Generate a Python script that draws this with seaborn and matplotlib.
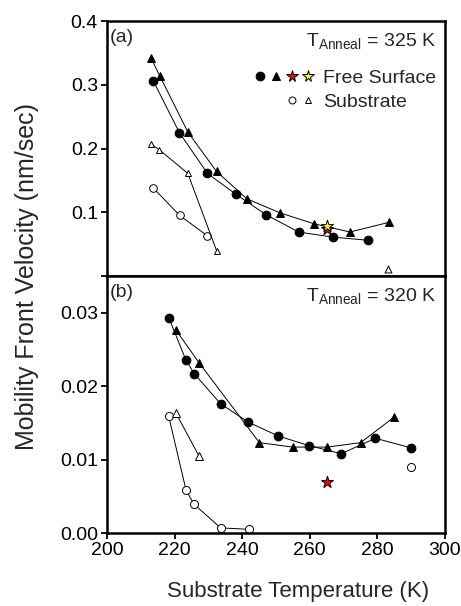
import numpy as np
import pandas as pd
import matplotlib
matplotlib.use("Agg")
import matplotlib.pyplot as plt
import seaborn as sns
from matplotlib.lines import Line2D
from matplotlib.legend_handler import HandlerTuple

# ---------------- data : panel (a), T_anneal = 325 K ----------------
a_fs_circ_T = [213.7, 221.4, 229.7, 238.2, 247.1, 256.7, 266.8, 277.3]
a_fs_circ_v = [0.306, 0.225, 0.161, 0.128, 0.096, 0.069, 0.061, 0.056]
a_fs_tri_T = [213.0, 215.7, 223.9, 232.4, 241.4, 251.2, 261.2, 271.9, 283.3]
a_fs_tri_v = [0.342, 0.313, 0.226, 0.164, 0.121, 0.099, 0.082, 0.069, 0.084]
a_sub_circ_T = [213.7, 221.5, 229.7]
a_sub_circ_v = [0.138, 0.095, 0.063]
a_sub_tri_T = [213.0, 215.5, 223.9, 232.4]
a_sub_tri_v = [0.207, 0.198, 0.161, 0.040]
a_sub_tri_iso_T = [283.2]
a_sub_tri_iso_v = [0.011]
a_star_red_T = [265.0]
a_star_red_v = [0.073]
a_star_yel_T = [265.0]
a_star_yel_v = [0.078]

# ---------------- data : panel (b), T_anneal = 320 K ----------------
b_fs_circ_T = [218.3, 223.3, 225.8, 233.6, 241.8, 250.7, 259.8, 269.3, 279.4, 289.9]
b_fs_circ_v = [0.0293, 0.0236, 0.0217, 0.0176, 0.0151, 0.0132, 0.0119, 0.0108, 0.0129, 0.0116]
b_fs_tri_T = [220.3, 227.2, 245.1, 254.9, 265.1, 275.0, 285.0]
b_fs_tri_v = [0.0277, 0.0232, 0.0123, 0.0117, 0.0117, 0.0123, 0.0158]
b_sub_circ_T = [218.2, 223.4, 225.8, 233.6, 241.9]
b_sub_circ_v = [0.0160, 0.0058, 0.0039, 0.0007, 0.0005]
b_sub_circ_iso_T = [289.9]
b_sub_circ_iso_v = [0.0090]
b_sub_tri_T = [220.3, 227.2]
b_sub_tri_v = [0.0164, 0.0105]
b_star_red_T = [265.1]
b_star_red_v = [0.0070]

x_ticks = [200, 220, 240, 260, 280, 300]
a_yticks = [0.0, 0.1, 0.2, 0.3, 0.4]
a_yticklabels = ["", "0.1", "0.2", "0.3", "0.4"]
b_yticks = [0.00, 0.01, 0.02, 0.03]
b_yticklabels = ["0.00", "0.01", "0.02", "0.03"]

sns.set_style("ticks")
plt.rcParams["font.family"] = ["Liberation Sans", "DejaVu Sans"]
plt.rcParams["mathtext.fontset"] = "custom"
plt.rcParams["mathtext.rm"] = "Liberation Sans"
plt.rcParams["mathtext.it"] = "Liberation Sans:italic"

W, H = 461, 606
fig = plt.figure(figsize=(W / 100, H / 100), dpi=100)
L, R = 107 / W, 445 / W
ax_a = fig.add_axes([L, 1 - 276 / H, R - L, (276 - 21) / H])
ax_b = fig.add_axes([L, 1 - 533 / H, R - L, (533 - 276) / H])

LW = 0.7


def conn(ax, T, v, marker, filled, ms):
    df = pd.DataFrame({"T": T, "v": v})
    sns.lineplot(data=df, x="T", y="v", ax=ax, color="black", lw=LW,
                 marker=marker, markersize=ms, sort=False, estimator=None,
                 markerfacecolor="black" if filled else "white",
                 markeredgecolor="black", markeredgewidth=0.7)


def pts(ax, T, v, marker, face, ms, z=3):
    df = pd.DataFrame({"T": T, "v": v})
    sns.scatterplot(data=df, x="T", y="v", ax=ax, marker=marker, s=ms ** 2,
                    color=face, edgecolor="black", linewidth=0.7, zorder=z)


# panel a
conn(ax_a, a_sub_circ_T, a_sub_circ_v, "o", False, 5.5)
conn(ax_a, a_sub_tri_T, a_sub_tri_v, "^", False, 5)
conn(ax_a, a_fs_circ_T, a_fs_circ_v, "o", True, 6.3)
conn(ax_a, a_fs_tri_T, a_fs_tri_v, "^", True, 6.3)
pts(ax_a, a_sub_tri_iso_T, a_sub_tri_iso_v, "^", "white", 5)
pts(ax_a, a_star_red_T, a_star_red_v, "*", "red", 9, 4)
pts(ax_a, a_star_yel_T, a_star_yel_v, "*", "yellow", 9, 5)

# panel b
conn(ax_b, b_sub_circ_T, b_sub_circ_v, "o", False, 5.8)
conn(ax_b, b_sub_tri_T, b_sub_tri_v, "^", False, 6)
conn(ax_b, b_fs_circ_T, b_fs_circ_v, "o", True, 6.3)
conn(ax_b, b_fs_tri_T, b_fs_tri_v, "^", True, 6.3)
pts(ax_b, b_sub_circ_iso_T, b_sub_circ_iso_v, "o", "white", 5.8)
pts(ax_b, b_star_red_T, b_star_red_v, "*", "red", 9, 4)

TICK_FS = 14
XLABEL_FS = 16
YLABEL_FS = 18
for ax in (ax_a, ax_b):
    ax.set_xlim(200, 300)
    ax.set_xticks(x_ticks)
    for s in ax.spines.values():
        s.set_visible(True)
        s.set_linewidth(1.8)
        s.set_color("black")
    ax.tick_params(axis="both", direction="out", length=4, width=1.3,
                   labelsize=TICK_FS, colors="black", pad=2.5)
    ax.set_xlabel("")
    ax.set_ylabel("")

ax_a.set_ylim(0, 0.4)
ax_a.set_yticks(a_yticks)
ax_a.set_yticklabels(a_yticklabels)
ax_a.tick_params(axis="x", bottom=False, labelbottom=False)

ax_b.set_ylim(0, 0.035)
ax_b.set_yticks(b_yticks)
ax_b.set_yticklabels(b_yticklabels)
ax_b.set_xticklabels([str(t) for t in x_ticks])

ax_a.text(0.008, 0.968, "(a)", transform=ax_a.transAxes, ha="left", va="top",
          fontsize=14)
ax_b.text(0.008, 0.968, "(b)", transform=ax_b.transAxes, ha="left", va="top",
          fontsize=14)
ax_a.text(0.975, 0.962, r"T$_{\mathrm{Anneal}}$ = 325 K", transform=ax_a.transAxes,
          ha="right", va="top", fontsize=14)
ax_b.text(0.975, 0.962, r"T$_{\mathrm{Anneal}}$ = 320 K", transform=ax_b.transAxes,
          ha="right", va="top", fontsize=14)

# legend
mk = dict(linestyle="none", markeredgecolor="black", markeredgewidth=0.7)
h_fc = Line2D([], [], marker="o", markerfacecolor="black", markersize=6.3, **mk)
h_ft = Line2D([], [], marker="^", markerfacecolor="black", markersize=5.8, **mk)
h_rs = Line2D([], [], marker="*", markerfacecolor="red", markersize=8.5, **mk)
h_ys = Line2D([], [], marker="*", markerfacecolor="yellow", markersize=8.5, **mk)
h_blank = Line2D([], [], linestyle="none", marker=None)
h_oc = Line2D([], [], marker="o", markerfacecolor="white", markersize=5, **mk)
h_ot = Line2D([], [], marker="^", markerfacecolor="white", markersize=5, **mk)
ax_a.legend([(h_fc, h_ft, h_rs, h_ys), (h_blank, h_blank, h_oc, h_ot)],
            ["Free Surface", "Substrate"], numpoints=1,
            handler_map={tuple: HandlerTuple(ndivide=None, pad=0.0)},
            loc="upper right", bbox_to_anchor=(0.975, 0.81), frameon=False,
            fontsize=14, handlelength=3.3, handletextpad=0.4, labelspacing=0.3,
            borderpad=0, borderaxespad=0)

fig.text(0.058, (1 - 21 / H + 1 - 533 / H) / 2, "Mobility Front Velocity (nm/sec)",
         rotation=90, ha="center", va="center", fontsize=YLABEL_FS)
fig.text(298 / W, 1 - 592 / H, "Substrate Temperature (K)", ha="center",
         va="center", fontsize=XLABEL_FS)

fig.savefig("out.png", dpi=100)
